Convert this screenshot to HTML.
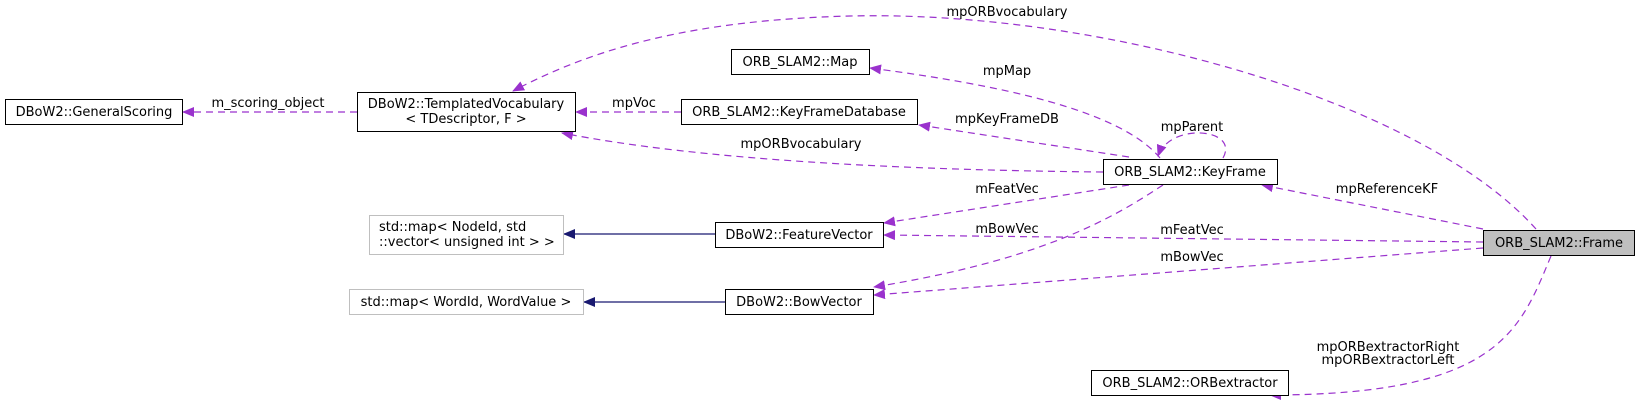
<!DOCTYPE html>
<html><head><meta charset="utf-8"><style>
html,body{margin:0;padding:0;background:#fff;}
svg{display:block;}
text{font-family:"DejaVu Sans","Liberation Sans",sans-serif;font-size:13px;fill:#000;}
</style></head><body>
<svg width="1640" height="403" viewBox="0 0 1640 403" xmlns="http://www.w3.org/2000/svg">
<defs>
<marker id="ap" markerWidth="12" markerHeight="10" refX="11" refY="5" orient="auto" markerUnits="userSpaceOnUse">
<path d="M0,0 L12,5 L0,10 Z" fill="#9a32cd"/></marker>
<marker id="an" markerWidth="12" markerHeight="10" refX="11" refY="5" orient="auto" markerUnits="userSpaceOnUse">
<path d="M0,0 L12,5 L0,10 Z" fill="#191970"/></marker>
</defs>
<g fill="none" stroke="#9a32cd" stroke-width="1.2" stroke-dasharray="7,5">
<path d="M1536,229 C1420,100 1100,10 850,16 C700,20 600,45 513,91" marker-end="url(#ap)"/>
<path d="M1160,158 C1120,110 1000,85 870,68" marker-end="url(#ap)"/>
<path d="M1129,157 L919,125" marker-end="url(#ap)"/>
<path d="M1223,158 C1240,128 1170,122 1158,156" marker-end="url(#ap)"/>
<path d="M1103,172 C900,170 700,160 562,133" marker-end="url(#ap)"/>
<path d="M1129,185 L884,223" marker-end="url(#ap)"/>
<path d="M1163,185 C1110,220 1040,260 874,287" marker-end="url(#ap)"/>
<path d="M1483,229 L1262,185" marker-end="url(#ap)"/>
<path d="M1483,242 L884,235" marker-end="url(#ap)"/>
<path d="M1483,248 L874,295" marker-end="url(#ap)"/>
<path d="M1551,256 C1520,330 1500,395 1270,395" marker-end="url(#ap)"/>
<path d="M357,112 L183,112" marker-end="url(#ap)"/>
<path d="M681,112 L576,112" marker-end="url(#ap)"/>
</g>
<g stroke="#191970" stroke-width="1.2">
<line x1="715" y1="234" x2="564" y2="234" marker-end="url(#an)"/>
<line x1="725" y1="302" x2="584" y2="302" marker-end="url(#an)"/>
</g>
<g stroke="#000" stroke-width="1" fill="#fff">
<rect x="5.5" y="99.5" width="177" height="25"/>
<rect x="357.5" y="92.5" width="218" height="39"/>
<rect x="731.5" y="49.5" width="138" height="25"/>
<rect x="681.5" y="99.5" width="236" height="25"/>
<rect x="715.5" y="222.5" width="168" height="25"/>
<rect x="725.5" y="289.5" width="148" height="25"/>
<rect x="1103.5" y="159.5" width="174" height="25"/>
<rect x="1483.5" y="230.5" width="151" height="25" fill="#bfbfbf"/>
<rect x="1091.5" y="370.5" width="197" height="25"/>
</g>
<g stroke="#bfbfbf" stroke-width="1" fill="#fff">
<rect x="369.5" y="215.5" width="194" height="39"/>
<rect x="349.5" y="289.5" width="234" height="25"/>
</g>
<g text-anchor="middle">
<text x="94" y="116">DBoW2::GeneralScoring</text>
<text x="466" y="108">DBoW2::TemplatedVocabulary</text>
<text x="466" y="123">&lt; TDescriptor, F &gt;</text>
<text x="800" y="66">ORB_SLAM2::Map</text>
<text x="799" y="116">ORB_SLAM2::KeyFrameDatabase</text>
<text x="799" y="239">DBoW2::FeatureVector</text>
<text x="799" y="306">DBoW2::BowVector</text>
<text x="1190" y="176">ORB_SLAM2::KeyFrame</text>
<text x="1559" y="247">ORB_SLAM2::Frame</text>
<text x="1190" y="387">ORB_SLAM2::ORBextractor</text>
<text x="466" y="306">std::map&lt; WordId, WordValue &gt;</text>
<text x="1007" y="16">mpORBvocabulary</text>
<text x="1007" y="75">mpMap</text>
<text x="1007" y="123">mpKeyFrameDB</text>
<text x="1192" y="131">mpParent</text>
<text x="801" y="148">mpORBvocabulary</text>
<text x="1007" y="193">mFeatVec</text>
<text x="1007" y="233">mBowVec</text>
<text x="1192" y="234">mFeatVec</text>
<text x="1192" y="261">mBowVec</text>
<text x="1387" y="193">mpReferenceKF</text>
<text x="1388" y="351">mpORBextractorRight</text>
<text x="1388" y="364">mpORBextractorLeft</text>
<text x="268" y="107">m_scoring_object</text>
<text x="634" y="107">mpVoc</text>
</g>
<text x="379" y="231">std::map&lt; NodeId, std</text>
<text x="379" y="246">::vector&lt; unsigned int &gt; &gt;</text>
</svg>
</body></html>
